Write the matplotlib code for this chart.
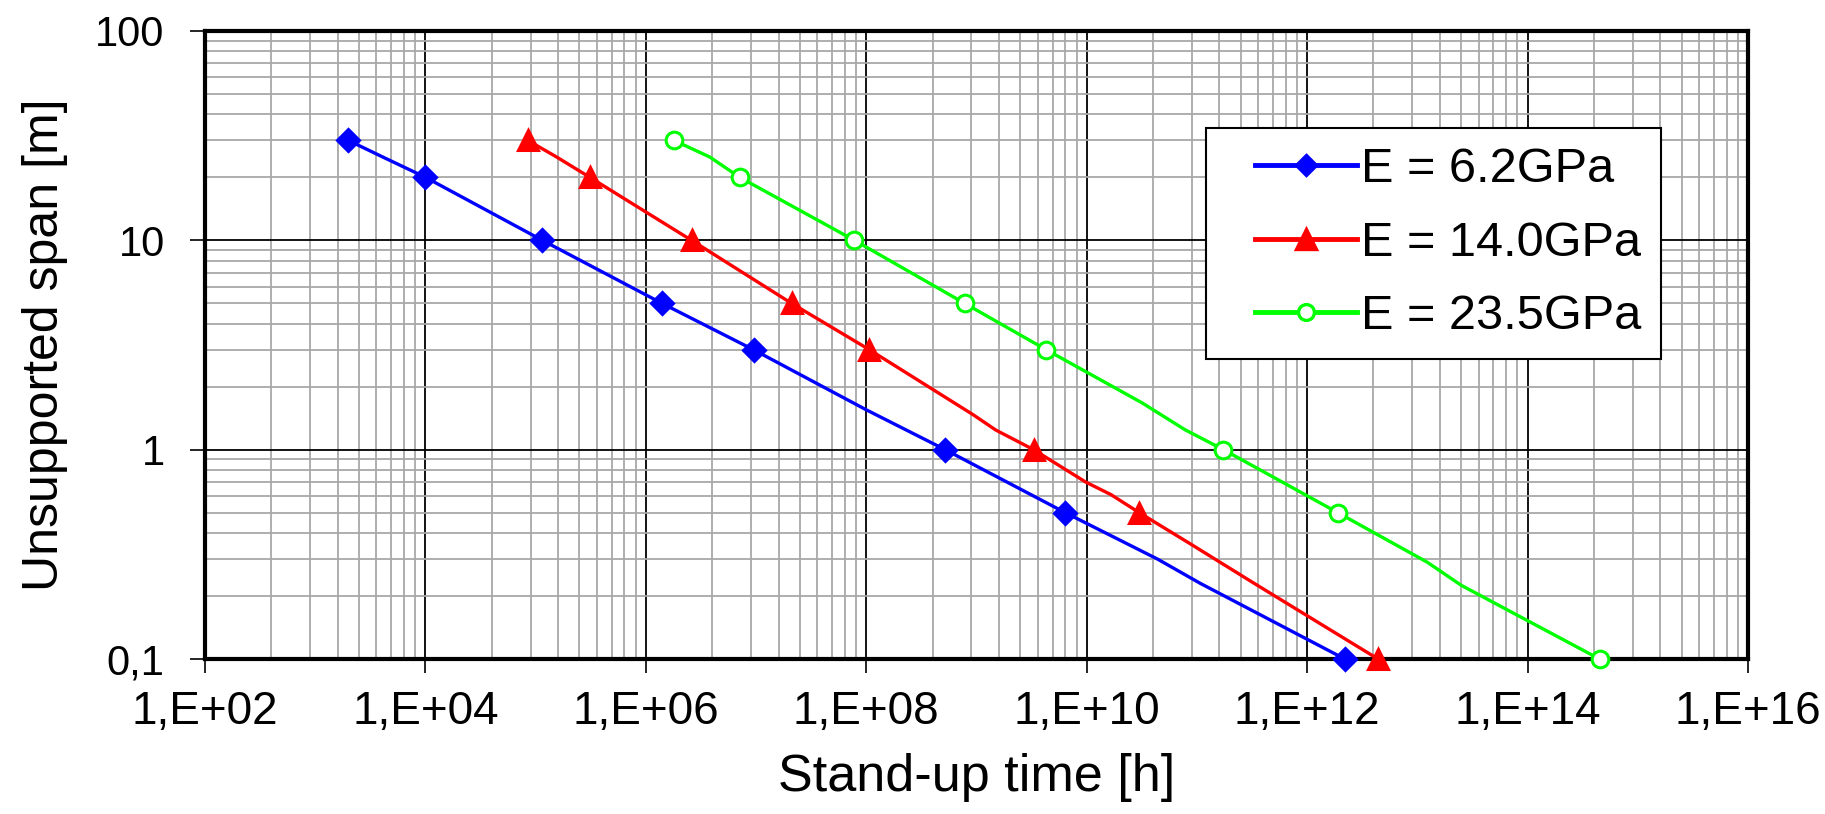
import matplotlib
matplotlib.use("Agg")
import matplotlib.pyplot as plt
from matplotlib.legend_handler import HandlerLine2D
from matplotlib.ticker import FixedLocator, FuncFormatter, NullFormatter
import numpy as np

plt.rcParams["font.family"] = ["Liberation Sans", "DejaVu Sans"]

# span values shared by all three series (markers)
span = [30, 20, 10, 5, 3, 1, 0.5, 0.1]

# stand-up time at each marker
t_62 = [2.0e3, 1.0e4, 1.15e5, 1.4e6, 9.5e6, 5.2e8, 6.4e9, 2.2e12]
t_140 = [8.5e4, 3.1e5, 2.6e6, 2.1e7, 1.07e8, 3.3e9, 3.0e10, 4.4e12]
t_235 = [1.8e6, 7.1e6, 7.8e7, 7.8e8, 4.3e9, 1.74e11, 1.9e12, 4.5e14]

# extra vertices of the drawn curves (the lines bend between markers)
kink_t_62 = [4.1e3, 1.0e8, 4.4e10, 1.07e11]
kink_s_62 = [25, 1.55, 0.3, 0.23]
kink_t_140 = [1.55e5, 9.3e8, 1.5e9, 9.8e9, 1.66e10, 9.1e10, 3.3e11]
kink_s_140 = [25, 1.47, 1.24, 0.7, 0.61, 0.35, 0.23]
kink_t_235 = [3.8e6, 3.2e10, 7.8e10, 1.23e13, 2.5e13]
kink_s_235 = [25, 1.67, 1.245, 0.29, 0.225]

labels = ["E = 6.2GPa", "E = 14.0GPa", "E = 23.5GPa"]
x_ticks = [1e2, 1e4, 1e6, 1e8, 1e10, 1e12, 1e14, 1e16]
y_ticks = [0.1, 1, 10, 100]
y_ticklabels = ["0,1", "1", "10", "100"]

LEG_FS = 35
SHIFT = 0.6  # empty room left of the legend handles, in font sizes


def curve(t, s, kt, ks):
    pts = sorted(zip(list(t) + list(kt), list(s) + list(ks)), key=lambda p: p[0])
    return [p[0] for p in pts], [p[1] for p in pts]


class ShiftedLine(HandlerLine2D):
    # legend handle drawn a bit in from the frame, like the spreadsheet one
    def create_artists(self, legend, orig_handle, xdescent, ydescent,
                       width, height, fontsize, trans):
        off = SHIFT * fontsize
        return super().create_artists(legend, orig_handle, xdescent - off,
                                      ydescent, width - off, height,
                                      fontsize, trans)


fig = plt.figure(figsize=(18.25, 8.14), dpi=100)
ax = fig.add_axes([0.1123, 0.1904, 0.8455, 0.7716])

series = [
    (t_62, kink_t_62, kink_s_62, "#0000ff", "D", 11, "#0000ff"),
    (t_140, kink_t_140, kink_s_140, "#ff0000", "^", 15, "#ff0000"),
    (t_235, kink_t_235, kink_s_235, "#00ff00", "o", 12, "white"),
]
handles = []
for (t, kt, ks, c, m, ms, fc), lab in zip(series, labels):
    cx, cy = curve(t, span, kt, ks)
    ax.plot(cx, cy, color=c, lw=2.4, zorder=3, clip_on=False)
    ax.plot(t, span, ls="none", marker=m, ms=ms, mfc=fc, mec=c, mew=2.2,
            zorder=4, clip_on=False)
    h, = ax.plot([], [], color=c, lw=3.5, marker=m, ms=ms * 0.95, mfc=fc,
                 mec=c, mew=2.4, label=lab)
    handles.append(h)

ax.set_xscale("log")
ax.set_yscale("log")
ax.set_xlim(1e2, 1e16)
ax.set_ylim(0.1, 100)

ax.xaxis.set_major_locator(FixedLocator(x_ticks))
ax.xaxis.set_major_formatter(FuncFormatter(lambda v, p: "1,E+%02d" % round(np.log10(v))))
x_minor = [100.0 ** n * k * k for n in range(1, 8) for k in range(2, 10)]
ax.xaxis.set_minor_locator(FixedLocator(x_minor))
ax.xaxis.set_minor_formatter(NullFormatter())

ax.yaxis.set_major_locator(FixedLocator(y_ticks))
ax.yaxis.set_major_formatter(FuncFormatter(
    lambda v, p: y_ticklabels[int(np.argmin([abs(np.log10(q / v)) for q in y_ticks]))]))
y_minor = [10.0 ** n * k for n in range(-1, 2) for k in range(2, 10)]
ax.yaxis.set_minor_locator(FixedLocator(y_minor))
ax.yaxis.set_minor_formatter(NullFormatter())

ax.grid(True, which="minor", color="#a8a8a8", lw=1.3, zorder=0)
ax.grid(True, which="major", color="black", lw=1.3, zorder=1)
ax.set_axisbelow(True)

for sp in ax.spines.values():
    sp.set_linewidth(3.0)
ax.tick_params(which="major", direction="out", width=1.2)
ax.tick_params(axis="x", which="major", length=10, labelsize=33, pad=12)
ax.tick_params(axis="y", which="major", length=11, labelsize=30, pad=18)
ax.tick_params(which="minor", length=0)

ax.set_xlabel("Stand-up time [h]", fontsize=37.5, labelpad=14)
ax.set_ylabel("Unsupported span [m]", fontsize=36, labelpad=20)

leg = ax.legend(handles=handles, loc="upper left", bbox_to_anchor=(0.649, 0.846),
                borderaxespad=0, fontsize=LEG_FS, frameon=True, fancybox=False,
                edgecolor="black", framealpha=1, handlelength=2.1 + SHIFT,
                handletextpad=0.08, labelspacing=0.59, borderpad=0.4,
                handler_map={matplotlib.lines.Line2D: ShiftedLine()})
leg.get_frame().set_linewidth(1.5)

fig.savefig("out.png", dpi=100)
